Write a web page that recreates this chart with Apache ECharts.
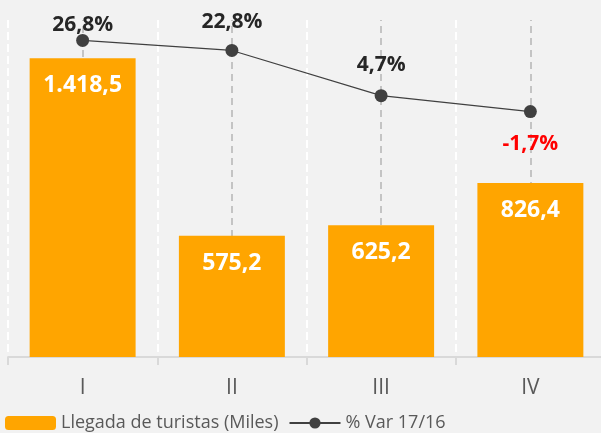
<!DOCTYPE html>
<html>
<head>
<meta charset="utf-8">
<script src="https://cdn.jsdelivr.net/npm/echarts@6/dist/echarts.min.js"></script>
<style>
  html, body { margin: 0; padding: 0; background: #F2F2F2; }
  #chart { width: 601px; height: 433px; }
</style>
</head>
<body>
<div id="chart"></div>
<script>
const categories = ['I', 'II', 'III', 'IV'];
const arrivals = [1418.5, 575.2, 625.2, 826.4];
const variation = [26.8, 22.8, 4.7, -1.7];

// hand placed label gaps for the % line, like the original
const varLabelGap = [-2, 11, 14, 15];

function esNumber(v) {
    let parts = v.toFixed(1).split('.');
    parts[0] = parts[0].replace(/\B(?=(\d{3})+(?!\d))/g, '.');
    return parts.join(',');
}

const chart = echarts.init(document.getElementById('chart'));

let varData = variation.map((v, i) => {
    return {
        value: v,
        label: {
            position: v < 0 ? 'bottom' : 'top',
            distance: varLabelGap[i],
            color: v < 0 ? '#FF0000' : '#262626'
        }
    };
});

let option = {
    backgroundColor: '#F2F2F2',
    animation: false,
    grid: {
        left: 8,
        top: 20,
        width: 597,
        bottom: 76,
        outerBoundsMode: 'none'
    },
    legend: {
        left: 0,
        top: 409,
        itemWidth: 51,
        itemHeight: 14,
        itemGap: 10,
        textStyle: {
            fontFamily: 'Open Sans',
            fontSize: 18,
            color: '#595959'
        },
        data: ['Llegada de turistas (Miles)', '% Var 17/16']
    },
    xAxis: {
        type: 'category',
        data: categories,
        axisLine: { lineStyle: { color: '#D9D9D9', width: 2 } },
        axisTick: { show: true, length: 8, lineStyle: { color: '#D9D9D9', width: 2 } },
        axisLabel: {
            color: '#595959',
            fontFamily: 'Open Sans',
            fontSize: 21,
            margin: 21
        },
        splitLine: {
            show: true,
            lineStyle: { color: '#FFFFFF', type: 'dashed', width: 2 }
        }
    },
    yAxis: [
        { type: 'value', min: 0, max: 1600, show: false, splitLine: { show: false } },
        { type: 'value', min: -100, max: 35, show: false, splitLine: { show: false } }
    ],
    series: [
        {
            name: 'Llegada de turistas (Miles)',
            type: 'bar',
            data: arrivals,
            barCategoryGap: '29%',
            itemStyle: { color: '#FFA500' },
            z: 2,
            label: {
                show: true,
                position: 'insideTop',
                distance: 16,
                color: '#FFFFFF',
                fontFamily: 'Open Sans',
                fontWeight: 'bold',
                fontSize: 23,
                formatter: p => esNumber(p.value)
            },
            markLine: {
                silent: true,
                z: 1,
                symbol: 'none',
                label: { show: false },
                lineStyle: { color: '#C4C4C4', type: [7, 5], width: 2 },
                data: categories.map(c => ({ xAxis: c }))
            }
        },
        {
            name: '% Var 17/16',
            type: 'line',
            yAxisIndex: 1,
            data: varData,
            z: 3,
            symbol: 'circle',
            symbolSize: 13,
            itemStyle: { color: '#404040' },
            lineStyle: { color: '#404040', width: 1.2 },
            label: {
                show: true,
                fontFamily: 'Open Sans',
                fontWeight: 'bold',
                fontSize: 21,
                formatter: p => p.value.toFixed(1).replace('.', ',') + '%'
            }
        }
    ]
};

chart.setOption(option);
</script>
</body>
</html>
